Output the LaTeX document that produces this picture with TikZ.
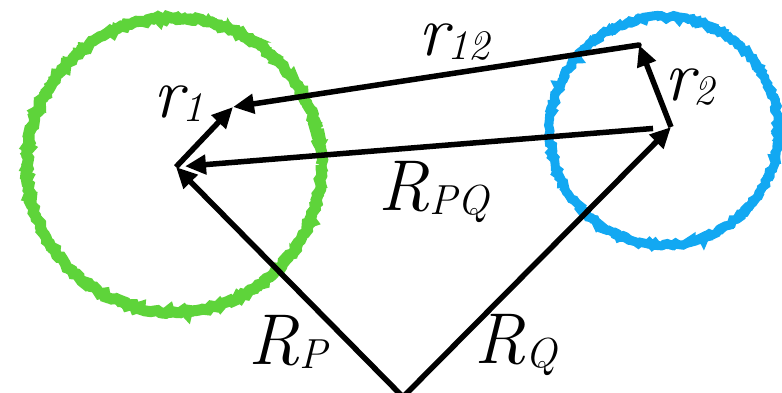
\documentclass[tikz,border=0pt]{standalone}
\usepackage{xcolor}
\usepackage{tikz}
\usetikzlibrary{arrows.meta,decorations.pathmorphing}
\definecolor{grass}{HTML}{5ED43A}
\definecolor{sky}{HTML}{12A8F2}
\newcommand\lsub[1]{\raisebox{-4pt}{\fontsize{42}{42}\selectfont #1}}
\tikzset{
  vec/.style={line width=5.5pt,-{Triangle[length=21pt,width=19pt]}},
  chalk/.style={decorate,decoration={random steps,segment length=3pt,amplitude=1.8pt}},
  lbl/.style={anchor=base west,inner sep=0pt,font=\fontsize{72}{72}\selectfont\itshape}
}

\begin{document}
\begin{tikzpicture}[x=1pt,y=-1pt]
    \useasboundingbox (0,0) rectangle (782,393);
    \clip (0,0) rectangle (782,393);
    % rough circles
    \draw[grass,line width=11pt,chalk] (174,165) circle[radius=147];
    \draw[grass,line width=7pt,chalk] (174,165) circle[radius=148];
    \draw[sky,line width=9pt,chalk] (664,131) circle[radius=114];
    \draw[sky,line width=6pt,chalk] (664,131) circle[radius=115];
    \coordinate (O) at (403,397);
    \coordinate (P) at (176,167);
    \coordinate (Q) at (671,127);
    \coordinate (A) at (233,107);
    \coordinate (B) at (639,45);
    \draw[vec] (O)--(P);
    \draw[vec] (O)--(Q);
    \draw[vec,shorten <=18pt,shorten >=9pt] (Q)--(P);
    \draw[vec] (P)--(A);
    \draw[vec] (Q)--(B);
    \draw[vec,line cap=round] (B)--(A);
    \node[lbl] (r1) at (153,118) {r\lsub{1}};
    \node[lbl] (r12) at (418,56) {r\lsub{12}};
    \node[lbl] (r2) at (664,101) {r\lsub{2}};
    \node[lbl] (RPQ) at (378,210) {R\lsub{PQ}};
    \node[lbl] (RP) at (248,364) {R\lsub{P}};
    \node[lbl] (RQ) at (474,363) {R\lsub{Q}};
  \end{tikzpicture}
\end{document}
